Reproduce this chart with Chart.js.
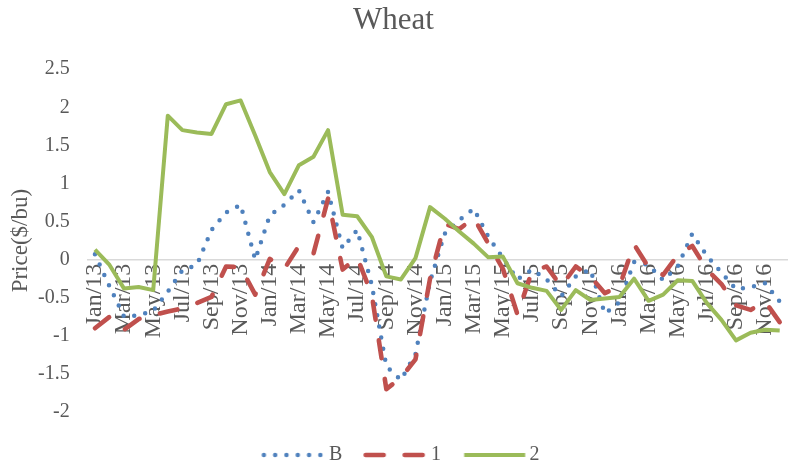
<!DOCTYPE html>
<html>
<head>
<meta charset="utf-8">
<title>Wheat</title>
<script src="https://cdn.jsdelivr.net/npm/chart.js@4.4.1/dist/chart.umd.min.js"></script>
<style>
  html, body { margin: 0; padding: 0; background: #ffffff; }
  #wrap { width: 792px; height: 465px; position: relative; }
</style>
</head>
<body>
<div id="wrap"><canvas id="chart"></canvas></div>
<script>
// Monthly categories Jan/13 .. Dec/16
const months = [
  'Jan/13', 'Feb/13', 'Mar/13', 'Apr/13', 'May/13', 'Jun/13', 'Jul/13', 'Aug/13', 'Sep/13', 'Oct/13', 'Nov/13', 'Dec/13',
  'Jan/14', 'Feb/14', 'Mar/14', 'Apr/14', 'May/14', 'Jun/14', 'Jul/14', 'Aug/14', 'Sep/14', 'Oct/14', 'Nov/14', 'Dec/14',
  'Jan/15', 'Feb/15', 'Mar/15', 'Apr/15', 'May/15', 'Jun/15', 'Jul/15', 'Aug/15', 'Sep/15', 'Oct/15', 'Nov/15', 'Dec/15',
  'Jan/16', 'Feb/16', 'Mar/16', 'Apr/16', 'May/16', 'Jun/16', 'Jul/16', 'Aug/16', 'Sep/16', 'Oct/16', 'Nov/16', 'Dec/16'
];

// Series ($/bu)
const seriesB = [
  0.07, -0.35, -0.75, -0.73, -0.67, -0.42, -0.14, -0.07, 0.39, 0.62, 0.72, 0.00,
  0.58, 0.72, 0.91, 0.49, 0.89, 0.15, 0.39, -0.33, -1.40, -1.58, -1.24, -0.29,
  0.34, 0.52, 0.67, 0.30, 0.02, -0.26, -0.13, -0.26, -0.48, -0.22, -0.13, -0.71,
  -0.56, -0.03, -0.07, -0.27, -0.09, 0.34, 0.05, -0.17, -0.39, -0.36, -0.31, -0.55
];
const series1 = [
  -0.90, -0.75, -0.92, -0.78, -0.73, -0.68, -0.64, -0.57, -0.49, -0.09, -0.10, -0.46,
  0.01, -0.12, 0.18, 0.08, 0.80, -0.13, 0.03, -0.46, -1.70, -1.55, -1.31, -0.25,
  0.47, 0.40, 0.55, 0.21, -0.12, -0.72, -0.15, -0.09, -0.35, -0.09, -0.22, -0.44,
  -0.35, 0.20, -0.10, -0.20, 0.06, 0.18, -0.13, -0.32, -0.60, -0.66, -0.55, -0.82
];
const series2 = [
  0.13, -0.07, -0.38, -0.36, -0.40, 1.89, 1.70, 1.67, 1.65, 2.04, 2.09, 1.63,
  1.15, 0.86, 1.24, 1.35, 1.70, 0.59, 0.57, 0.30, -0.22, -0.26, 0.02, 0.69,
  0.54, 0.37, 0.21, 0.03, 0.04, -0.31, -0.37, -0.41, -0.66, -0.40, -0.53, -0.51,
  -0.49, -0.25, -0.54, -0.46, -0.27, -0.28, -0.57, -0.79, -1.06, -0.96, -0.92, -0.93
];
const seriesNames = ['B', '1', '2'];

const textColor = '#595959';
const serif = '"Liberation Serif", "Times New Roman", serif';

// small canvas used as the legend symbol (line sample)
function legendSample(color, dash, width, cap) {
  const c = document.createElement('canvas');
  c.width = 90;
  c.height = 10;
  const g = c.getContext('2d');
  g.strokeStyle = color;
  g.lineWidth = width;
  g.lineCap = cap;
  g.setLineDash(dash);
  g.beginPath();
  g.moveTo(25.5, 5);
  g.lineTo(86.5, 5);
  g.stroke();
  return c;
}

const styles = [
  { color: '#4F81BD', dash: [0, 11.3], width: 4.5, cap: 'round' },
  { color: '#C0504D', dash: [18, 21], width: 4.6, cap: 'round' },
  { color: '#9BBB59', dash: [], width: 4, cap: 'butt' }
];
const samples = styles.map(s => legendSample(s.color, s.dash, s.width, s.cap));

const ctx = document.getElementById('chart').getContext('2d');
const chart = new Chart(ctx, {
  type: 'line',
  data: {
    labels: months,
    datasets: [seriesB, series1, series2].map((values, i) => ({
      label: seriesNames[i],
      data: values,
      borderColor: styles[i].color,
      backgroundColor: styles[i].color,
      borderWidth: styles[i].width,
      borderDash: styles[i].dash,
      borderCapStyle: styles[i].cap,
      borderJoinStyle: 'round',
      pointRadius: 0,
      tension: 0,
      fill: false,
      order: 3 - i
    }))
  },
  options: {
    responsive: true,
    maintainAspectRatio: false,
    animation: false,
    layout: { padding: { left: 0, right: 5, top: 0, bottom: 0 } },
    plugins: {
      tooltip: { enabled: false },
      title: {
        display: true,
        text: 'Wheat',
        color: textColor,
        font: { family: serif, size: 31, weight: 'normal' },
        padding: { top: 2, bottom: 30 }
      },
      legend: {
        position: 'bottom',
        maxHeight: 53,
        title: { display: true, text: ' ', font: { size: 10 }, padding: { top: 5, bottom: 9 } },
        labels: {
          usePointStyle: true,
          pointStyleWidth: 71.5,
          padding: 7,
          color: textColor,
          font: { family: serif, size: 20 },
          generateLabels: (c) => {
            const items = Chart.defaults.plugins.legend.labels.generateLabels(c);
            items.sort((a, b) => a.datasetIndex - b.datasetIndex);
            items.forEach(item => { item.pointStyle = samples[item.datasetIndex]; });
            return items;
          }
        }
      }
    },
    scales: {
      x: {
        position: { y: 0 },
        offset: true,
        grid: { display: false, drawTicks: false },
        border: { display: true, color: '#d9d9d9', width: 1.5 },
        afterFit: (scale) => {
          // labels sit inside the plot, so no side padding is needed
          scale.paddingLeft = 0;
          scale.paddingRight = 0;
        },
        ticks: {
          autoSkip: false,
          minRotation: 90,
          maxRotation: 90,
          padding: 4,
          color: textColor,
          font: { family: serif, size: 24 },
          callback: function (value, index) {
            return index % 2 === 0 ? months[index] : '';
          }
        }
      },
      y: {
        min: -2,
        max: 2.5,
        grid: { display: false, drawTicks: false },
        border: { display: false },
        ticks: {
          stepSize: 0.5,
          padding: 18,
          color: textColor,
          font: { family: serif, size: 20 },
          callback: (v) => String(Math.round(v * 10) / 10)
        },
        title: {
          display: true,
          text: 'Price($/bu)',
          color: textColor,
          font: { family: serif, size: 23 },
          padding: { top: 7, bottom: -14.6 }
        }
      }
    }
  }
});
</script>
</body>
</html>
